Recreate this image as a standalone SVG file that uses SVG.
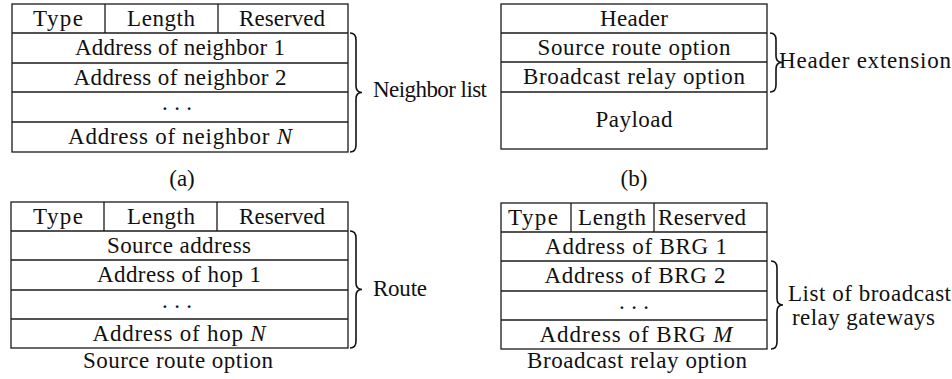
<svg xmlns="http://www.w3.org/2000/svg" width="952" height="379" viewBox="0 0 952 379">
<style>
rect.cell{fill:#fff;stroke:#1a1a1a;stroke-width:1.3}
line.div{stroke:#1a1a1a;stroke-width:1.3}
text{font-size:23px;fill:#111}
text.c{text-anchor:middle}
path.brace{fill:none;stroke:#111;stroke-width:1.6}
</style>
<rect width="952" height="379" fill="#fff"/>
<g font-family="'Liberation Serif', 'DejaVu Serif', serif">
<g id="tableA">
<rect class="cell" x="12" y="4" width="336" height="148"/>
<line class="div" x1="12" y1="33" x2="348" y2="33"/>
<line class="div" x1="12" y1="63" x2="348" y2="63"/>
<line class="div" x1="12" y1="92" x2="348" y2="92"/>
<line class="div" x1="12" y1="122" x2="348" y2="122"/>
<line class="div" x1="105" y1="4" x2="105" y2="33"/>
<line class="div" x1="218" y1="4" x2="218" y2="33"/>
<text class="c" x="58" y="26" textLength="50">Type</text>
<text class="c" x="161" y="26" textLength="68">Length</text>
<text class="c" x="282" y="26" textLength="86">Reserved</text>
<text class="c" x="180" y="55" textLength="210">Address of neighbor 1</text>
<text class="c" x="180" y="85" textLength="213">Address of neighbor 2</text>
<text class="c" x="177" y="110" textLength="30">. . .</text>
<text class="c" x="180" y="144" textLength="224">Address of neighbor <tspan font-style="italic">N</tspan></text>
<text class="c" x="182" y="186">(a)</text>
</g>

<g id="tableB">
<rect class="cell" x="501" y="4" width="266" height="145"/>
<line class="div" x1="501" y1="33" x2="767" y2="33"/>
<line class="div" x1="501" y1="62" x2="767" y2="62"/>
<line class="div" x1="501" y1="92" x2="767" y2="92"/>
<text class="c" x="634" y="26" textLength="68">Header</text>
<text class="c" x="634" y="55" textLength="193">Source route option</text>
<text class="c" x="634" y="84" textLength="222">Broadcast relay option</text>
<text class="c" x="634" y="127" textLength="77">Payload</text>
<text class="c" x="634" y="186">(b)</text>
</g>

<g id="tableC">
<rect class="cell" x="11" y="202" width="337" height="146"/>
<line class="div" x1="11" y1="231" x2="348" y2="231"/>
<line class="div" x1="11" y1="260" x2="348" y2="260"/>
<line class="div" x1="11" y1="290" x2="348" y2="290"/>
<line class="div" x1="11" y1="319" x2="348" y2="319"/>
<line class="div" x1="104" y1="202" x2="104" y2="231"/>
<line class="div" x1="217" y1="202" x2="217" y2="231"/>
<text class="c" x="58" y="224" textLength="50">Type</text>
<text class="c" x="161" y="224" textLength="68">Length</text>
<text class="c" x="282" y="224" textLength="86">Reserved</text>
<text class="c" x="179" y="253" textLength="144">Source address</text>
<text class="c" x="179" y="282" textLength="164">Address of hop 1</text>
<text class="c" x="177" y="308" textLength="30">. . .</text>
<text class="c" x="179" y="341" textLength="173">Address of hop <tspan font-style="italic">N</tspan></text>
<text class="c" x="178" y="368" textLength="190">Source route option</text>
</g>

<g id="tableD">
<rect class="cell" x="501" y="203" width="266" height="146"/>
<line class="div" x1="501" y1="232" x2="767" y2="232"/>
<line class="div" x1="501" y1="261" x2="767" y2="261"/>
<line class="div" x1="501" y1="291" x2="767" y2="291"/>
<line class="div" x1="501" y1="320" x2="767" y2="320"/>
<line class="div" x1="571" y1="203" x2="571" y2="232"/>
<line class="div" x1="654" y1="203" x2="654" y2="232"/>
<text class="c" x="533" y="225" textLength="50">Type</text>
<text class="c" x="612" y="225" textLength="68">Length</text>
<text class="c" x="702" y="225" textLength="88">Reserved</text>
<text class="c" x="636" y="254" textLength="182">Address of BRG 1</text>
<text class="c" x="635" y="283" textLength="181">Address of BRG 2</text>
<text class="c" x="634" y="309" textLength="30">. . .</text>
<text class="c" x="636" y="342" textLength="193">Address of BRG <tspan font-style="italic">M</tspan></text>
<text class="c" x="637" y="368" textLength="220">Broadcast relay option</text>
</g>

<g id="labels">
<text x="373" y="97" textLength="114">Neighbor list</text>
<text x="779" y="68" textLength="172">Header extension</text>
<text x="373" y="296" textLength="54">Route</text>
<text x="788" y="301" textLength="163">List of broadcast</text>
<text x="792" y="325" textLength="143">relay gateways</text>
</g>
</g>
<g id="connectors">
<path class="brace" d="M350,33 Q356,33 356,40 L356,86 Q356,92.5 362,92.5 Q356,92.5 356,99 L356,145 Q356,152 350,152"/>
<path class="brace" d="M770,33 Q776,33 776,40 L776,56 Q776,62.5 782,62.5 Q776,62.5 776,69 L776,85 Q776,92 770,92"/>
<path class="brace" d="M350,231 Q356,231 356,238 L356,283 Q356,289.5 362,289.5 Q356,289.5 356,296 L356,341 Q356,348 350,348"/>
<path class="brace" d="M771,261 Q777,261 777,268 L777,298.5 Q777,305 783,305 Q777,305 777,311.5 L777,342 Q777,349 771,349"/>
</g>
</svg>
